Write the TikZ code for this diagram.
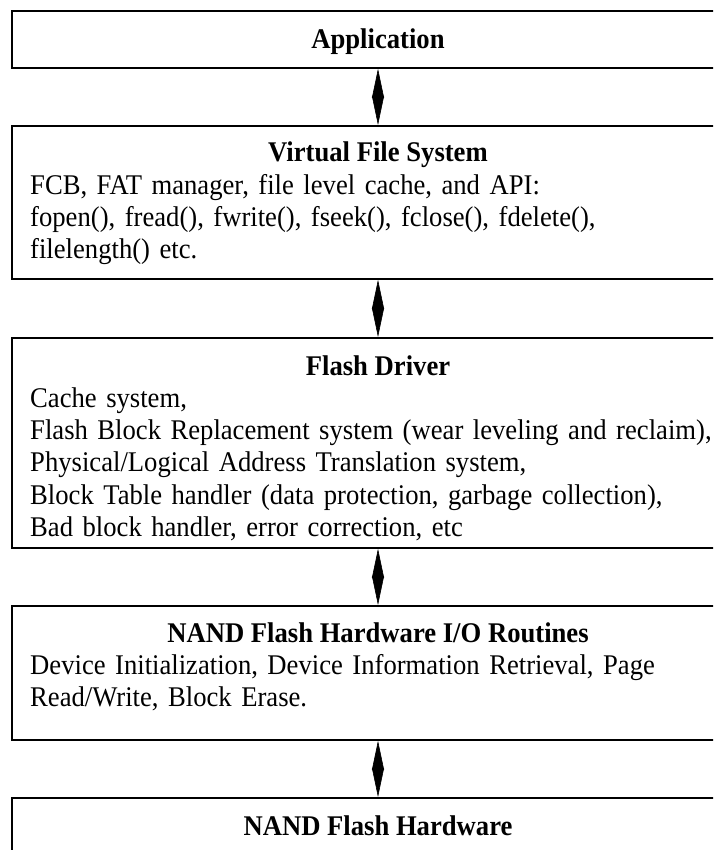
\documentclass[tikz,border=0pt]{standalone}
\usepackage{fontspec}
\setmainfont[FakeStretch=0.935]{Liberation Serif}
\usetikzlibrary{arrows.meta}
\hyphenpenalty=10000
\exhyphenpenalty=10000
\begin{document}
\begin{tikzpicture}[x=1pt,y=-1pt,
  layer/.style={draw, line width=1.8pt, rectangle, minimum width=732pt,
    inner sep=0pt, anchor=north},
  title/.style={font=\fontsize{28.5}{32.3}\selectfont\bfseries,
    anchor=base, inner sep=0pt},
  body/.style={font=\fontsize{28.5}{32.3}\selectfont,
    text width=705pt, align=left, anchor=base west, inner sep=0pt},
  link/.style={{Triangle[length=29pt,width=12pt]}-{Triangle[length=29pt,width=12pt]},
    line width=0.6pt}]
\useasboundingbox (0,0) rectangle (713,850);
\clip (0,0) rectangle (713,850);

% software/hardware layers, top to bottom
\node[layer, minimum height=57pt]  (app)  at (378,10)  {};
\node[layer, minimum height=153pt] (vfs)  at (378,125) {};
\node[layer, minimum height=210pt] (drv)  at (378,337) {};
\node[layer, minimum height=134pt] (io)   at (378,605) {};
\node[layer, minimum height=103pt] (nand) at (378,797) {};

% layer titles
\node[title] (appT)  at (378,49)  {Application};
\node[title] (vfsT)  at (378,162) {Virtual File System};
\node[title] (drvT)  at (378,375) {Flash Driver};
\node[title] (ioT)   at (378,642) {NAND Flash Hardware I/O Routines};
\node[title] (nandT) at (378,835) {NAND Flash Hardware};

% layer descriptions
\node[body] (vfsB) at (30,194.3) {FCB, FAT manager, file level cache, and API:\\
  fopen(), fread(), fwrite(), fseek(), fclose(), fdelete(),\\
  filelength() etc.};
\node[body] (drvB) at (30,407.3) {Cache system,\\
  Flash Block Replacement system (wear leveling and reclaim),\\
  Physical/Logical Address Translation system,\\
  Block Table handler (data protection, garbage collection),\\
  Bad block handler, error correction, etc};
\node[body] (ioB) at (30,674.3) {Device Initialization, Device Information Retrieval, Page\\
  Read/Write, Block Erase.};

% two-way links between adjacent layers
\draw[link] (app.south) -- (vfs.north);
\draw[link] (vfs.south) -- (drv.north);
\draw[link] (drv.south) -- (io.north);
\draw[link] (io.south)  -- (nand.north);
\end{tikzpicture}
\end{document}
